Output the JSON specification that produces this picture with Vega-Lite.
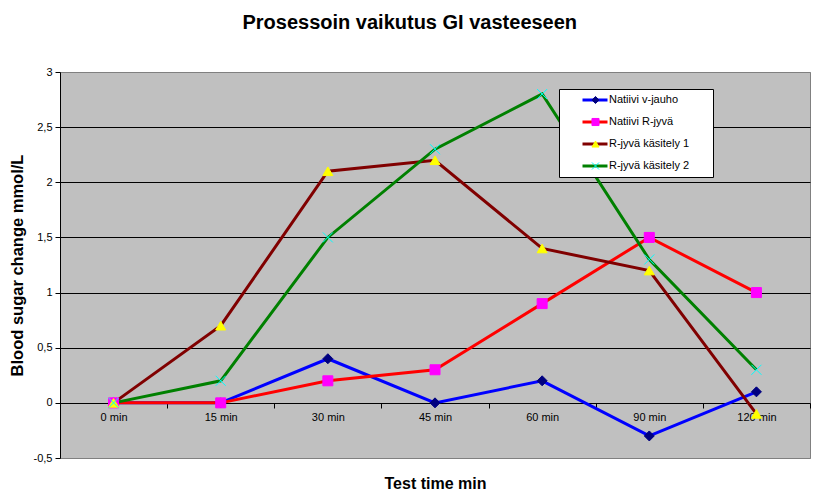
{
  "$schema": "https://vega.github.io/schema/vega-lite/v6.json",
  "width": 750,
  "height": 386,
  "autosize": {"type": "none"},
  "padding": {"left": 60, "top": 72, "right": 7, "bottom": 40},
  "background": "white",
  "title": {
    "text": "Prosessoin vaikutus GI vasteeseen",
    "font": "Liberation Sans",
    "fontSize": 20,
    "fontWeight": "bold",
    "color": "black",
    "anchor": "middle",
    "frame": "bounds",
    "offset": 33
  },
  "config": {"view": {"fill": "#C0C0C0", "stroke": "#808080", "strokeWidth": 1}},
  "data": {
    "values": [
      {"time": "0 min", "series": "Natiivi v-jauho", "value": 0},
      {"time": "15 min", "series": "Natiivi v-jauho", "value": 0},
      {"time": "30 min", "series": "Natiivi v-jauho", "value": 0.4},
      {"time": "45 min", "series": "Natiivi v-jauho", "value": 0},
      {"time": "60 min", "series": "Natiivi v-jauho", "value": 0.2},
      {"time": "90 min", "series": "Natiivi v-jauho", "value": -0.3},
      {"time": "120 min", "series": "Natiivi v-jauho", "value": 0.1},
      {"time": "0 min", "series": "Natiivi R-jyvä", "value": 0},
      {"time": "15 min", "series": "Natiivi R-jyvä", "value": 0},
      {"time": "30 min", "series": "Natiivi R-jyvä", "value": 0.2},
      {"time": "45 min", "series": "Natiivi R-jyvä", "value": 0.3},
      {"time": "60 min", "series": "Natiivi R-jyvä", "value": 0.9},
      {"time": "90 min", "series": "Natiivi R-jyvä", "value": 1.5},
      {"time": "120 min", "series": "Natiivi R-jyvä", "value": 1.0},
      {"time": "0 min", "series": "R-jyvä käsitely 1", "value": 0},
      {"time": "15 min", "series": "R-jyvä käsitely 1", "value": 0.7},
      {"time": "30 min", "series": "R-jyvä käsitely 1", "value": 2.1},
      {"time": "45 min", "series": "R-jyvä käsitely 1", "value": 2.2},
      {"time": "60 min", "series": "R-jyvä käsitely 1", "value": 1.4},
      {"time": "90 min", "series": "R-jyvä käsitely 1", "value": 1.2},
      {"time": "120 min", "series": "R-jyvä käsitely 1", "value": -0.1},
      {"time": "0 min", "series": "R-jyvä käsitely 2", "value": 0},
      {"time": "15 min", "series": "R-jyvä käsitely 2", "value": 0.2},
      {"time": "30 min", "series": "R-jyvä käsitely 2", "value": 1.5},
      {"time": "45 min", "series": "R-jyvä käsitely 2", "value": 2.3},
      {"time": "60 min", "series": "R-jyvä käsitely 2", "value": 2.8},
      {"time": "90 min", "series": "R-jyvä käsitely 2", "value": 1.3},
      {"time": "120 min", "series": "R-jyvä käsitely 2", "value": 0.3}
    ]
  },
  "encoding": {
    "x": {
      "field": "time",
      "type": "ordinal",
      "sort": ["0 min", "15 min", "30 min", "45 min", "60 min", "90 min", "120 min"],
      "bandPosition": 0.5,
      "scale": {"type": "band", "paddingInner": 0, "paddingOuter": 0},
      "axis": {
        "offset": -55,
        "tickBand": "extent",
        "tickSize": 5,
        "tickColor": "black",
        "domain": false,
        "grid": false,
        "labelAngle": 0,
        "labelFont": "Liberation Sans",
        "labelFontSize": 11,
        "labelColor": "black",
        "labelPadding": 3,
        "title": "Test time min",
        "titleFont": "Liberation Sans",
        "titleFontSize": 16,
        "titleFontWeight": "bold",
        "titleColor": "black",
        "titleY": 80,
        "titleBaseline": "middle"
      }
    },
    "y": {
      "field": "value",
      "type": "quantitative",
      "scale": {"domain": [-0.5, 3], "nice": false, "zero": false},
      "axis": {
        "values": [-0.5, 0, 0.5, 1, 1.5, 2, 2.5, 3],
        "labelExpr": "replace(toString(datum.value), '.', ',')",
        "grid": true,
        "gridColor": {"condition": {"test": "datum.value == 3 || datum.value == -0.5", "value": "#808080"}, "value": "black"},
        "gridWidth": 1,
        "tickSize": 5,
        "tickColor": "black",
        "domainColor": "black",
        "labelFont": "Liberation Sans",
        "labelFontSize": 11,
        "labelColor": "black",
        "labelPadding": 3,
        "title": "Blood sugar change mmol/L",
        "titleFont": "Liberation Sans",
        "titleFontSize": 16.5,
        "titleFontWeight": "bold",
        "titleColor": "black",
        "titlePadding": 8
      }
    }
  },
  "layer": [
    {
      "mark": {"type": "line", "strokeWidth": 3},
      "encoding": {
        "color": {
          "field": "series",
          "type": "nominal",
          "scale": {
            "domain": ["Natiivi v-jauho", "Natiivi R-jyvä", "R-jyvä käsitely 1", "R-jyvä käsitely 2"],
            "range": ["#0000FF", "#FF0000", "#800000", "#008000"]
          },
          "legend": {
            "orient": "none",
            "legendX": 499,
            "legendY": 17,
            "title": " ",
            "titleOrient": "right",
            "titlePadding": 22,
            "titleFontSize": 11,
            "symbolType": "M-1,0H1",
            "symbolSize": 625,
            "symbolStrokeWidth": 3,
            "fillColor": "white",
            "strokeColor": "black",
            "padding": 2,
            "clipHeight": 18,
            "rowPadding": 4,
            "symbolOffset": 20,
            "labelOffset": 0,
            "labelFont": "Liberation Sans",
            "labelFontSize": 11,
            "labelColor": "black"
          }
        }
      }
    },
    {
      "mark": {"type": "point", "filled": true, "size": 100, "strokeWidth": 1, "opacity": 1},
      "encoding": {
        "shape": {
          "field": "series",
          "type": "nominal",
          "sort": null,
          "scale": {"range": ["diamond", "square", "triangle-up", "M-1,-1L1,1M-1,1L1,-1"]},
          "legend": {
            "orient": "none", "legendX": 499, "legendY": 17, "title": null,
            "symbolSize": 50, "symbolStrokeWidth": 1, "padding": 2, "clipHeight": 18, "rowPadding": 4,
            "symbolOffset": 29, "labelOffset": 0, "labelExpr": "''", "labelFont": "Liberation Sans", "labelFontSize": 11
          }
        },
        "fill": {
          "field": "series",
          "type": "nominal",
          "sort": null,
          "scale": {"range": ["#000080", "#FF00FF", "#FFFF00", "#00FFFF"]},
          "legend": {
            "orient": "none", "legendX": 499, "legendY": 17, "title": null,
            "symbolSize": 50, "symbolStrokeWidth": 1, "padding": 2, "clipHeight": 18, "rowPadding": 4,
            "symbolOffset": 29, "labelOffset": 0, "labelExpr": "''", "labelFont": "Liberation Sans", "labelFontSize": 11
          }
        },
        "stroke": {
          "field": "series",
          "type": "nominal",
          "sort": null,
          "scale": {"range": ["#000080", "#FF00FF", "#FFFF00", "#00FFFF"]},
          "legend": {
            "orient": "none", "legendX": 499, "legendY": 17, "title": null,
            "symbolSize": 50, "symbolStrokeWidth": 1, "padding": 2, "clipHeight": 18, "rowPadding": 4,
            "symbolOffset": 29, "labelOffset": 0, "labelExpr": "''", "labelFont": "Liberation Sans", "labelFontSize": 11
          }
        }
      }
    }
  ]
}
